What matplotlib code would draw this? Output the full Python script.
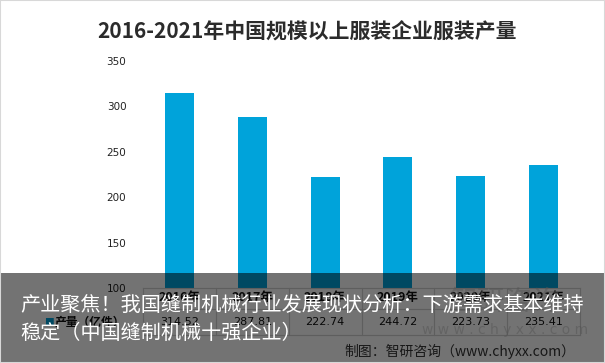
import matplotlib
matplotlib.use("Agg")
import matplotlib.pyplot as plt
from matplotlib.patches import Rectangle
import matplotlib.transforms as mtransforms

plt.rcParams['font.family'] = ['Noto Sans CJK SC', 'DejaVu Sans']

years = ["2016年", "2017年", "2018年", "2019年", "2020年", "2021年"]
values = [314.52, 287.81, 222.74, 244.72, 223.73, 235.41]
value_labels = ["314.52", "287.81", "222.74", "244.72", "223.73", "235.41"]
series_name = "产量（亿件）"
yticks = [100, 150, 200, 250, 300, 350]
title = "2016-2021年中国规模以上服装企业服装产量"
caption_lines = ["产业聚焦！我国缝制机械行业发展现状分析：下游需求基本维持",
                 "稳定（中国缝制机械十强企业）"]
source = "制图：智研咨询（www.chyxx.com）"

W, H = 605, 363
fig = plt.figure(figsize=(W / 100, H / 100), dpi=100)
fig.patch.set_facecolor("white")

def fy(py):
    return 1 - py / H

def fx(px):
    return px / W

ax = fig.add_axes([fx(143), fy(288), fx(580) - fx(143), fy(61) - fy(288)])
x = list(range(len(years)))
bar_color = "#00A3DA"
ax.bar(x, [v - 100 for v in values], bottom=100, width=0.4, color=bar_color, zorder=2)
ax.set_xlim(-0.5, len(years) - 0.5)
ax.set_ylim(100, 350)
ax.set_yticks(yticks)
ax.set_yticklabels([str(t) for t in yticks], fontsize=7.5, color="#222222", family="DejaVu Sans")
ax.tick_params(axis="y", length=0, pad=12)
ax.set_xticks([])
for s in ax.spines.values():
    s.set_visible(False)

# title
fig.text(0.507, fy(32), title, ha="center", va="center", fontsize=15,
         fontweight="bold", color="#2b2b2b")

# data table
trans = mtransforms.blended_transform_factory(ax.transData, fig.transFigure)
line_col = "#d0d0d0"
for yy in [288, 309, 335]:
    fig.add_artist(plt.Line2D([fx(143), fx(580)], [fy(yy), fy(yy)], color=line_col, lw=0.8,
                              transform=fig.transFigure, zorder=1))
for i in range(len(years) + 1):
    xb = i - 0.5
    fig.add_artist(plt.Line2D([xb, xb], [fy(288), fy(335)], color=line_col, lw=0.8,
                              transform=trans, zorder=1))
for i, (yr, vl) in enumerate(zip(years, value_labels)):
    fig.text(i, fy(297), yr, transform=trans, ha="center", va="center", fontsize=9,
             fontweight="bold", color="#111111")
    fig.text(i, fy(322), vl, transform=trans, ha="center", va="center", fontsize=8,
             color="#111111", family="DejaVu Sans")
fig.text(fx(44), fy(322), "■", ha="left", va="center", fontsize=7, color=bar_color)
fig.text(fx(55), fy(322), series_name, ha="left", va="center", fontsize=8.5,
         fontweight="bold", color="#111111")

# watermark
fig.text(fx(505), fy(302), "智研咨询", ha="center", va="center", fontsize=20,
         color="#bbbbbb", alpha=0.5)
fig.text(fx(505), fy(330), "w w w . c h y x x . c o m", ha="center", va="center", fontsize=10,
         color="#bbbbbb", alpha=0.5, family="DejaVu Sans")

# source
fig.text(fx(575), fy(351), source, ha="right", va="center", fontsize=10, color="#333333")

# dark overlay
fig.add_artist(Rectangle((0, 0), 1, fy(273), transform=fig.transFigure,
                         facecolor="black", alpha=0.55, edgecolor="none", zorder=10))

# caption
fig.text(fx(20), fy(305), caption_lines[0], ha="left", va="center", fontsize=14.5,
         color="white", zorder=11)
fig.text(fx(20), fy(333), caption_lines[1], ha="left", va="center", fontsize=14.5,
         color="white", zorder=11)

fig.add_artist(Rectangle((0, 0), 1, 1, transform=fig.transFigure, facecolor="none",
                         edgecolor="#d8d8d8", lw=1.5, zorder=12))

fig.savefig("out.png", dpi=100)
